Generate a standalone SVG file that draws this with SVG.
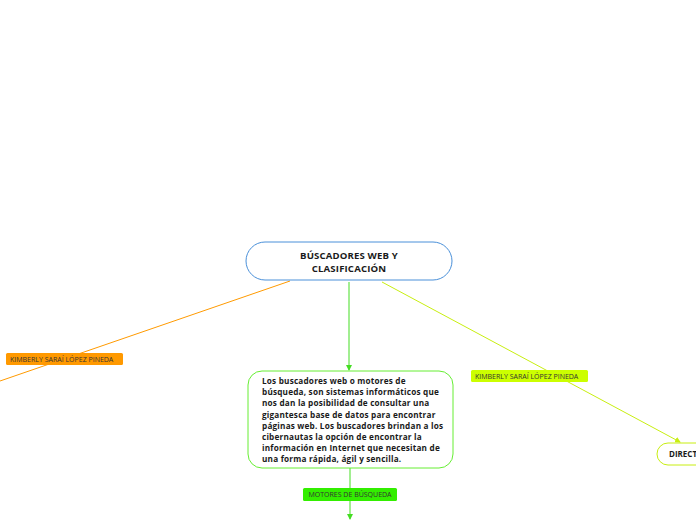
<svg xmlns="http://www.w3.org/2000/svg" width="696" height="520" viewBox="0 0 696 520">
<style>
.t{font-family:"Open Sans","Noto Sans","DejaVu Sans",sans-serif;fill:#1a1a1a}
.b{font-weight:bold}
.lbl{font-family:"Open Sans","Noto Sans","DejaVu Sans",sans-serif;font-size:7px;fill:#333}
.c{fill:none;stroke-width:1}
</style>
<defs>
<marker id="ag" markerWidth="6" markerHeight="6" refX="5" refY="3" orient="auto" markerUnits="userSpaceOnUse"><path d="M0,0 L6,3 L0,6 z" fill="#44dd22"/></marker>
<marker id="ay" markerWidth="6" markerHeight="6" refX="5" refY="3" orient="auto" markerUnits="userSpaceOnUse"><path d="M0,0 L6,3 L0,6 z" fill="#c8ee10"/></marker>
</defs>
<rect width="696" height="520" fill="#ffffff"/>
<g id="connectors">
<line class="c" x1="290" y1="281" x2="0" y2="381" stroke="#ff9a00"/>
<line class="c" x1="349" y1="282" x2="349" y2="370" stroke="#44dd22" marker-end="url(#ag)"/>
<line class="c" x1="382" y1="282" x2="680" y2="442" stroke="#c8ee10" marker-end="url(#ay)"/>
<line class="c" x1="350" y1="468" x2="350" y2="519" stroke="#44dd22" marker-end="url(#ag)"/>
</g>
<g id="main">
<rect x="246" y="242" width="206" height="38" rx="19" fill="#fff" stroke="#4a90d9" stroke-width="1"/>
<text class="t b" font-size="9.6" letter-spacing="0.15" text-anchor="middle"><tspan x="349" y="259">BÚSCADORES WEB Y</tspan><tspan x="349" y="272">CLASIFICACIÓN</tspan></text>
</g>
<g id="lbl-orange">
<rect x="6" y="353" width="117" height="12" rx="1.5" fill="#ff9900"/>
<text class="lbl" x="10" y="361.5">KIMBERLY SARAÍ LÓPEZ PINEDA</text>
</g>
<g id="lbl-yellow">
<rect x="471" y="370" width="117" height="12" rx="1.5" fill="#ccff00"/>
<text class="lbl" x="475" y="378.5">KIMBERLY SARAÍ LÓPEZ PINEDA</text>
</g>
<g id="central">
<rect x="248" y="371" width="205" height="97" rx="14" fill="#fff" stroke="#66ee33" stroke-width="1"/>
<text class="t b" font-size="8.2" letter-spacing="0.2"><tspan x="262" y="384">Los buscadores web o motores de</tspan><tspan x="262" y="395">búsqueda, son sistemas informáticos que</tspan><tspan x="262" y="406">nos dan la posibilidad de consultar una</tspan><tspan x="262" y="417.5">gigantesca base de datos para encontrar</tspan><tspan x="262" y="428.5">páginas web. Los buscadores brindan a los</tspan><tspan x="262" y="439.5">cibernautas la opción de encontrar la</tspan><tspan x="262" y="450.5">información en Internet que necesitan de</tspan><tspan x="262" y="461.5">una forma rápida, ágil y sencilla.</tspan></text>
</g>
<g id="lbl-green">
<rect x="303" y="488" width="94" height="13" rx="1.5" fill="#33ee00"/>
<text class="lbl" x="350" y="497" text-anchor="middle">MOTORES DE BÚSQUEDA</text>
</g>
<g id="direct">
<rect x="657" y="443" width="80" height="22" rx="11" fill="#fff" stroke="#c8ee10" stroke-width="1"/>
<text class="t b" font-size="8" x="669" y="457">DIRECT</text>
</g>
</svg>
